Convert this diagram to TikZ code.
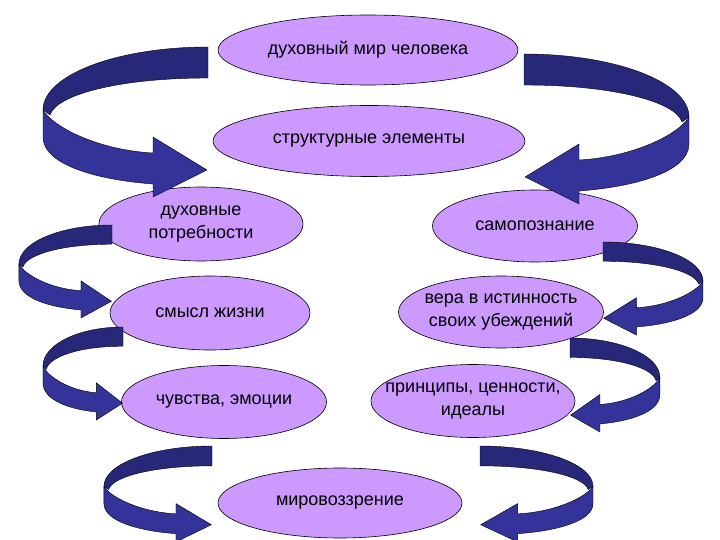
\documentclass[tikz,border=0pt]{standalone}
\usepackage{fontspec}
\setmainfont{Liberation Sans}
\usetikzlibrary{shapes.geometric}
\definecolor{lilac}{HTML}{CC99FF}
\definecolor{navy}{HTML}{333399}
\definecolor{dknavy}{HTML}{28287A}

\begin{document}
\begin{tikzpicture}[
  x=1pt, y=-1pt,
  every node/.style={text=black, font=\fontsize{18}{23}\selectfont},
  idea/.style={ellipse, draw=black, line width=0.6pt, fill=lilac,
    inner xsep=-30pt, inner ysep=0pt, align=center},
  ribbon/.pic={
    % back of the band
    \filldraw[fill=dknavy, draw=black, line width=0.4pt]
      (0,0) .. controls (-91,0) and (-165,28) .. (-165,63) -- (-158,68)
      .. controls (-152,48) and (-90,31) .. (0,31) -- cycle;
    % front of the band with the head
    \filldraw[fill=navy, draw=black, line width=0.4pt]
      (-165,63) .. controls (-155,80) and (-110,103) .. (-55,106)
      -- (-55,90) -- (-1,123) -- (-55,150) -- (-55,137)
      .. controls (-110,133) and (-165,118) .. (-165,90) -- cycle;
  },
]

% Page
\fill[white] (0,0) rectangle (720,540);
\useasboundingbox (0,0) rectangle (720,540);

% Top ellipses
\node[idea, minimum width=300pt, minimum height=70pt] (world) at (368,50) {духовный мир человека};
\node[idea, minimum width=312pt, minimum height=71pt] (parts) at (369,141) {структурные элементы};

% Left column
\node[idea, minimum width=204pt, minimum height=74pt] (needs) at (201,224) {духовные\\потребности};
\node[idea, minimum width=200pt, minimum height=74pt] (sense) at (210,313) {смысл жизни};
\node[idea, minimum width=205pt, minimum height=73pt] (feel) at (224,402) {чувства, эмоции};

% Right column
\node[idea, minimum width=205pt, minimum height=72pt] (self) at (535,226) {самопознание};
\node[idea, minimum width=205pt, minimum height=72pt] (faith) at (501,312) {вера в истинность\\своих убеждений};
\node[idea, minimum width=204pt, minimum height=73pt] (ideals) at (473,401) {принципы, ценности,\\идеалы};

% Bottom
\node[idea, minimum width=244pt, minimum height=70pt] (view) at (340,503) {мировоззрение};

% Big arrows from the top
\pic at (208,47) {ribbon};
\pic[xscale=-1] at (524,54) {ribbon};

% Left arrows
\pic[xscale=0.564, yscale=0.62] at (112,225) {ribbon};
\pic[xscale=0.485, yscale=0.62] at (123,327) {ribbon};
\pic[xscale=0.655, yscale=0.64] at (212,446) {ribbon};

% Right arrows
\pic[xscale=-0.606, yscale=0.62] at (603,242) {ribbon};
\pic[xscale=-0.545, yscale=0.627] at (570,338) {ribbon};
\pic[xscale=-0.685, yscale=0.64] at (480,446) {ribbon};

\end{tikzpicture}
\end{document}
